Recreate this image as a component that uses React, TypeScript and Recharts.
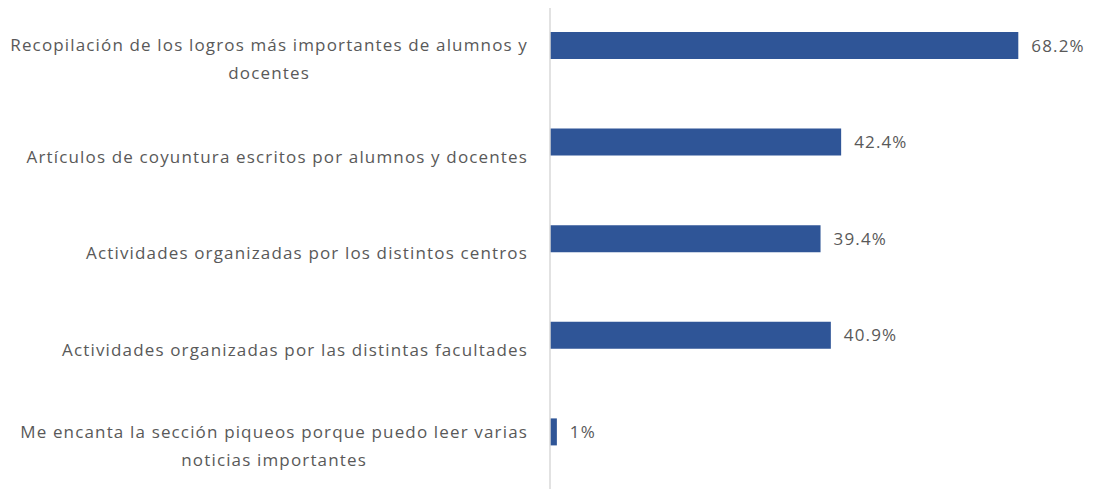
import React, { useLayoutEffect, useRef, useState } from 'react';
import { BarChart, Bar, XAxis, YAxis, LabelList } from 'recharts';

const categories = [
  'Recopilación de los logros más importantes de alumnos y docentes',
  'Artículos de coyuntura escritos por alumnos y docentes',
  'Actividades organizadas por los distintos centros',
  'Actividades organizadas por las distintas facultades',
  'Me encanta la sección piqueos porque puedo leer varias noticias importantes',
];
const percents = [68.2, 42.4, 39.4, 40.9, 1];

const data = categories.map((name, i) => ({ name, value: percents[i] }));

const FONT = '"Open Sans", sans-serif';
const GRAY = '#595959';
const SIZE = 17;
const SPACING = 1.15;

function wrap(text: string, max: number) {
  const words = text.split(' ');
  const lines: string[] = [];
  let cur = '';
  for (const w of words) {
    const next = cur ? cur + ' ' + w : w;
    if (next.length > max && cur) {
      lines.push(cur);
      cur = w;
    } else {
      cur = next;
    }
  }
  if (cur) lines.push(cur);
  return lines;
}

function CategoryTick(props: any) {
  const { x, y, payload } = props;
  const lines = wrap(payload.value, 56);
  const ref = useRef<SVGTextElement>(null);
  const [w, setW] = useState(0);
  useLayoutEffect(() => {
    if (ref.current) setW(ref.current.getComputedTextLength());
  }, [payload.value]);
  const right = x - 14;
  const style = { fill: GRAY, fontFamily: FONT, fontSize: SIZE, letterSpacing: SPACING };
  if (lines.length === 1) {
    return (
      <text x={right} y={y + 15} dy="0.35em" textAnchor="end" style={style}>
        {lines[0]}
      </text>
    );
  }
  const cx = right - w / 2;
  return (
    <g>
      <text ref={ref} x={cx} y={y} dy="0.35em" textAnchor="middle" style={style}>
        {lines[0]}
      </text>
      <text x={cx} y={y + 28} dy="0.35em" textAnchor="middle" style={style}>
        {lines[1]}
      </text>
    </g>
  );
}

export default function App() {
  return (
    <div style={{ position: 'absolute', left: 0, top: 8, background: '#fff' }}>
      <BarChart
        width={1095}
        height={481}
        data={data}
        layout="vertical"
        margin={{ top: 0, right: 30, bottom: 0, left: 0 }}
      >
        <XAxis type="number" domain={[0, 75]} hide />
        <YAxis
          type="category"
          dataKey="name"
          width={550}
          axisLine={{ stroke: '#d9d9d9', strokeWidth: 1.5 }}
          tickLine={false}
          tick={<CategoryTick />}
          padding={{ top: -11, bottom: 9 }}
          interval={0}
        />
        <Bar dataKey="value" fill="#2F5597" barSize={27} isAnimationActive={false}>
          <LabelList
            dataKey="value"
            position="right"
            offset={13}
            formatter={(v: any) => `${v}%`}
            fill={GRAY}
            fontFamily={FONT}
            fontSize={SIZE}
            letterSpacing={SPACING}
          />
        </Bar>
      </BarChart>
    </div>
  );
}
